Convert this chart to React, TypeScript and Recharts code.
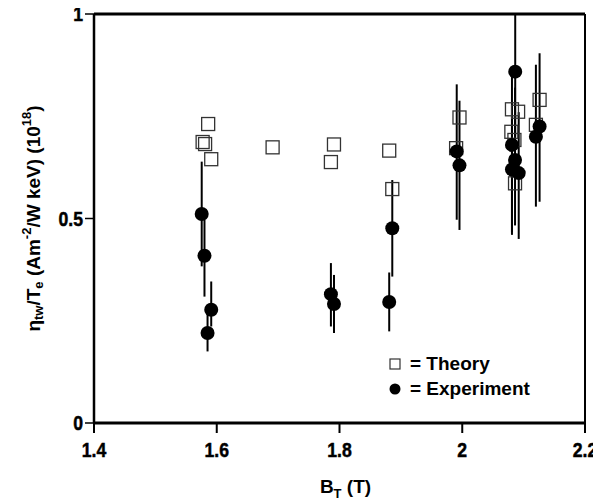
import React from 'react';
import {
  ScatterChart,
  Scatter,
  XAxis,
  YAxis,
  ErrorBar,
  ReferenceLine,
} from 'recharts';

// Theory (open squares)
const theoryB = [1.586, 1.577, 1.581, 1.591, 1.691, 1.791, 1.786, 1.881, 1.886, 1.9955, 1.99, 2.081, 2.091, 2.08, 2.085, 2.086, 2.126, 2.12];
const theoryEta = [0.731, 0.687, 0.682, 0.645, 0.674, 0.681, 0.638, 0.666, 0.572, 0.747, 0.672, 0.767, 0.761, 0.712, 0.692, 0.586, 0.79, 0.729];

// Experiment (filled circles) with error bar ends
const expB = [1.5755, 1.58, 1.591, 1.585, 1.786, 1.791, 1.886, 1.881, 1.991, 1.9955, 2.0863, 2.081, 2.086, 2.081, 2.092, 2.126, 2.12];
const expEta = [0.511, 0.409, 0.277, 0.22, 0.315, 0.291, 0.476, 0.296, 0.664, 0.63, 0.859, 0.68, 0.643, 0.62, 0.611, 0.725, 0.7];
const expLow = [0.383, 0.309, 0.236, 0.175, 0.236, 0.22, 0.358, 0.224, 0.497, 0.472, 0.7, 0.467, 0.483, 0.46, 0.45, 0.541, 0.529];
const expHigh = [0.639, 0.497, 0.346, 0.27, 0.391, 0.362, 0.594, 0.368, 0.828, 0.788, 1.0, 0.847, 0.82, 0.78, 0.76, 0.904, 0.876];

const xTicks = [1.4, 1.6, 1.8, 2, 2.2];
const yTicks = [0, 0.5, 1];

const theoryData = theoryB.map((b, i) => ({ b, eta: theoryEta[i] }));
const expData = expB.map((b, i) => ({
  b,
  eta: expEta[i],
  err: [expEta[i] - expLow[i], expHigh[i] - expEta[i]],
}));

const FONT = "'Liberation Sans', Arial, sans-serif";

const Square = (props: any) => {
  const { cx, cy } = props;
  return <rect x={cx - 6.5} y={cy - 6.5} width={13} height={13} fill="none" stroke="#333" strokeWidth={1.3} />;
};

const Dot = (props: any) => {
  const { cx, cy } = props;
  return <circle cx={cx} cy={cy} r={7} fill="#000" />;
};

// condensed bold tick text, like the original's narrow face
const NarrowTick = (props: any) => {
  const { x, y, payload, textAnchor, vertical } = props;
  return (
    <text
      transform={`translate(${x},${y}) scale(0.84,1)`}
      textAnchor={textAnchor}
      dy={vertical ? '0.355em' : '0.71em'}
      fontFamily={FONT}
      fontWeight={700}
      fontSize={21}
      fill="#000"
      stroke="#000"
      strokeWidth={0.5}
    >
      {payload.value}
    </text>
  );
};

const YLabel = (props: any) => {
  const { viewBox } = props;
  const cx = 33;
  const cy = viewBox.y + viewBox.height / 2;
  return (
    <text
      x={cx}
      y={cy}
      transform={`rotate(-90, ${cx}, ${cy})`}
      textAnchor="middle"
      dominantBaseline="central"
      fontFamily={FONT}
      fontWeight="bold"
      fontSize={19}
      fill="#000"
    >
      η<tspan fontSize={13} dy={5}>tw</tspan>
      <tspan dy={-5}>/T</tspan>
      <tspan fontSize={13} dy={5}>e</tspan>
      <tspan dy={-5}> (Am</tspan>
      <tspan fontSize={13} dy={-7}>-2</tspan>
      <tspan dy={7}>/W keV) (10</tspan>
      <tspan fontSize={13} dy={-7}>18</tspan>
      <tspan dy={7}>)</tspan>
    </text>
  );
};

const XLabel = (props: any) => {
  const { viewBox } = props;
  const cx = viewBox.x + viewBox.width / 2 + 6;
  return (
    <text x={cx} y={493} textAnchor="middle" fontFamily={FONT} fontWeight="bold" fontSize={19} fill="#000">
      B<tspan fontSize={13} dy={5}>T</tspan>
      <tspan dy={-5}> (T)</tspan>
    </text>
  );
};

const LegendBox = () => (
  <div
    style={{
      position: 'absolute',
      left: 389,
      top: 351,
      fontFamily: FONT,
      fontWeight: 'bold',
      fontSize: 19,
      lineHeight: '25px',
      color: '#000',
    }}
  >
    <div style={{ display: 'flex', alignItems: 'center' }}>
      <svg width={12} height={12} style={{ marginRight: 9 }}>
        <rect x={1} y={1} width={10} height={10} fill="none" stroke="#333" strokeWidth={1.2} />
      </svg>
      <span>= Theory</span>
    </div>
    <div style={{ display: 'flex', alignItems: 'center' }}>
      <svg width={12} height={12} style={{ marginRight: 9 }}>
        <circle cx={6} cy={6} r={5.5} fill="#000" />
      </svg>
      <span>= Experiment</span>
    </div>
  </div>
);

export default function App() {
  return (
    <div style={{ position: 'relative', width: 601, height: 501, margin: '-8px 0 0 -8px' }}>
      <ScatterChart width={601} height={501} margin={{ top: 14, right: 16, left: 0, bottom: 0 }}>
        <XAxis
          type="number"
          dataKey="b"
          domain={[1.4, 2.2]}
          ticks={xTicks}
          tickSize={10}
          tickMargin={9}
          height={78}
          axisLine={{ stroke: '#000', strokeWidth: 3 }}
          tickLine={{ stroke: '#000', strokeWidth: 2 }}
          tick={<NarrowTick />}
          label={<XLabel />}
        />
        <YAxis
          type="number"
          dataKey="eta"
          domain={[0, 1]}
          ticks={yTicks}
          width={94}
          tickSize={9}
          tickMargin={2}
          axisLine={{ stroke: '#000', strokeWidth: 2.5 }}
          tickLine={{ stroke: '#000', strokeWidth: 1.5 }}
          tick={<NarrowTick vertical />}
          label={<YLabel />}
        />
        <ReferenceLine y={1} stroke="#000" strokeWidth={3} />
        <ReferenceLine x={2.2} stroke="#000" strokeWidth={2} />
        <Scatter name="Theory" data={theoryData} shape={<Square />} isAnimationActive={false} />
        <Scatter name="Experiment" data={expData} shape={<Dot />} isAnimationActive={false}>
          <ErrorBar dataKey="err" direction="y" width={0} stroke="#000" strokeWidth={2} />
        </Scatter>
      </ScatterChart>
      <LegendBox />
    </div>
  );
}
